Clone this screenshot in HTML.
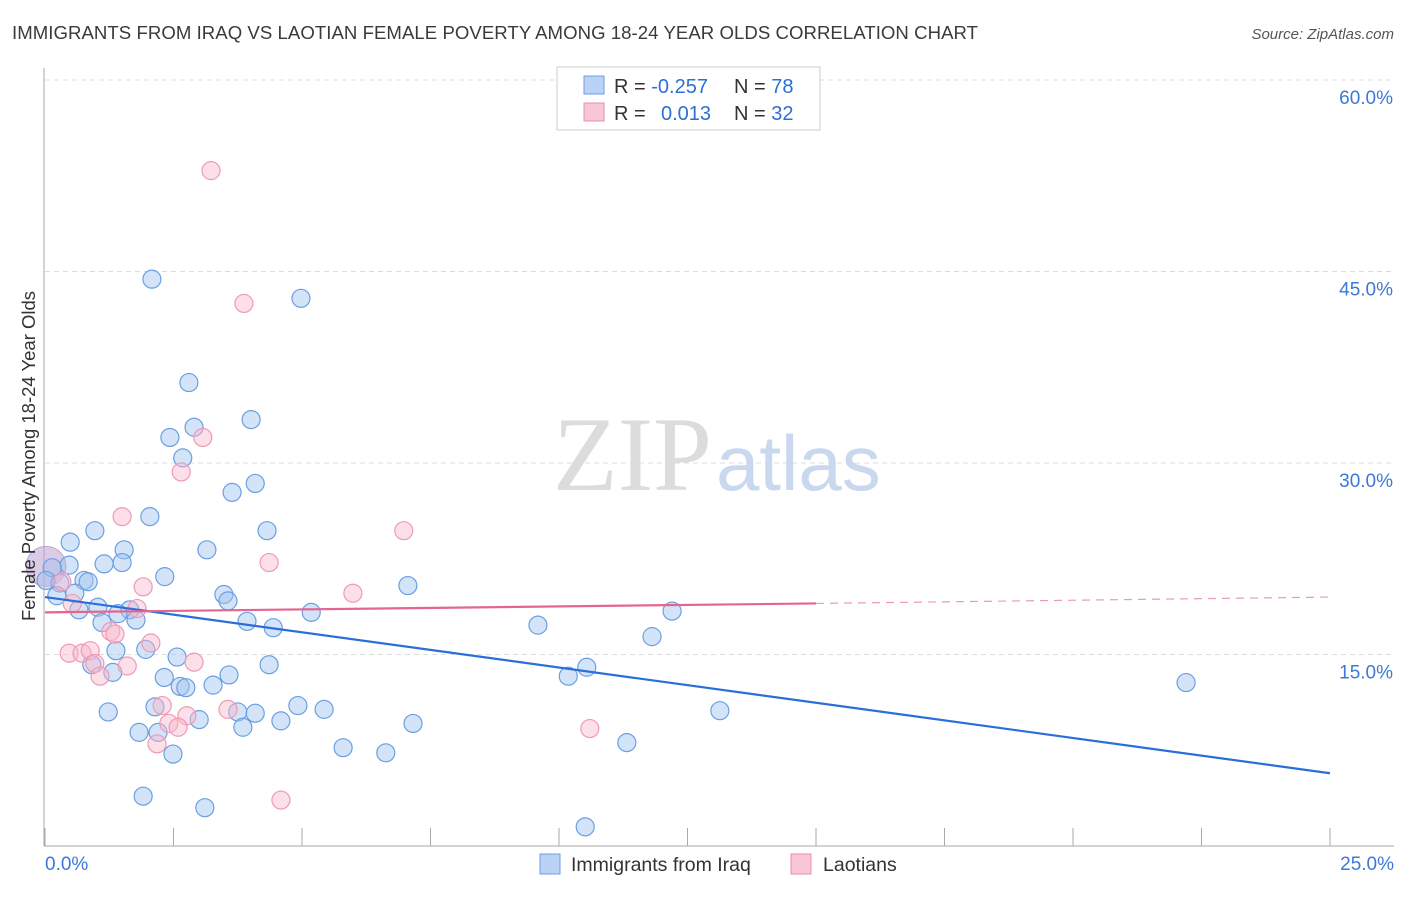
<!DOCTYPE html>
<html><head><meta charset="utf-8"><style>
body{margin:0;background:#fff;font-family:"Liberation Sans",sans-serif;}
</style></head><body>
<svg width="1406" height="892" viewBox="0 0 1406 892" xmlns="http://www.w3.org/2000/svg">
<text x="12" y="39" font-size="18.6" fill="#3a3a3a" textLength="966">IMMIGRANTS FROM IRAQ VS LAOTIAN FEMALE POVERTY AMONG 18-24 YEAR OLDS CORRELATION CHART</text>
<text x="1394" y="39" font-size="15" fill="#555" font-style="italic" text-anchor="end">Source: ZipAtlas.com</text>
<g id="grid"></g>
<text x="712" y="490" font-size="106" fill="#dcdcdc" text-anchor="end" font-family="Liberation Serif,serif">ZIP</text>
<text x="716" y="490" font-size="78" fill="#c9d8ef">atlas</text>
<g id="pts"></g>
<g id="lines"></g>
<text transform="translate(35,456) rotate(-90)" font-size="18.5" fill="#333" text-anchor="middle">Female Poverty Among 18-24 Year Olds</text>
<g>
<rect x="557" y="67" width="263" height="63" fill="#fff" stroke="#ccc"/>
<rect x="584" y="76" width="20" height="18" fill="#b9d2f5" stroke="#6f9ee0"/>
<rect x="584" y="103" width="20" height="18" fill="#f9c6d5" stroke="#ea8fac"/>
<text x="614" y="93" font-size="20" fill="#333">R = <tspan fill="#2c6fd6">-0.257</tspan><tspan x="734">N = </tspan><tspan fill="#2c6fd6">78</tspan></text>
<text x="614" y="120" font-size="20" fill="#333">R = <tspan x="661" fill="#2c6fd6">0.013</tspan><tspan x="734">N = </tspan><tspan fill="#2c6fd6">32</tspan></text>
</g>
<g>
<rect x="540" y="854" width="20" height="20" fill="#b9d2f5" stroke="#6f9ee0"/>
<text x="571" y="871" font-size="19.5" fill="#333">Immigrants from Iraq</text>
<rect x="791" y="854" width="20" height="20" fill="#f9c6d5" stroke="#ea8fac"/>
<text x="823" y="871" font-size="19.5" fill="#333">Laotians</text>
</g>
</svg>
<script>
const xTicks=[0,2.5,5,7.5,10,12.5,15,17.5,20,22.5,25];
const yTicks=[15,30,45,60];
const yTickLabels=["15.0%","30.0%","45.0%","60.0%"];
const iraqX=[2.08,4.98,2.80,4.01,2.90,2.43,2.68,4.09,3.64,2.04,0.97,4.32,0.49,1.54,3.15,1.15,1.50,0.47,0.14,2.33,0.76,0.84,0.29,7.06,3.48,0.58,0.23,3.56,1.03,1.65,0.66,5.18,1.42,1.77,3.93,1.11,9.59,4.44,12.2,11.81,1.96,1.38,2.57,4.36,0.91,1.32,10.54,10.18,3.58,2.32,2.63,2.74,3.27,22.2,4.92,5.43,2.14,1.23,3.75,4.09,13.13,3.0,4.59,7.16,3.85,1.83,2.20,11.32,5.80,6.63,2.49,1.91,3.11,10.51,0.02];
const iraqY=[44.4,42.9,36.3,33.4,32.8,32.0,30.4,28.4,27.7,25.8,24.7,24.7,23.8,23.2,23.2,22.1,22.2,22.0,21.8,21.1,20.8,20.7,20.6,20.4,19.7,19.8,19.6,19.2,18.7,18.5,18.5,18.3,18.2,17.7,17.6,17.5,17.3,17.1,18.4,16.4,15.4,15.3,14.8,14.2,14.2,13.6,14.0,13.3,13.4,13.2,12.5,12.4,12.6,12.8,11.0,10.7,10.9,10.5,10.5,10.4,10.6,9.9,9.8,9.6,9.3,8.9,8.9,8.1,7.7,7.3,7.2,3.9,3.0,1.5,20.8];
const laoX=[3.23,3.87,3.07,2.65,1.50,6.98,4.36,0.33,1.91,5.99,0.53,1.79,2.06,1.28,1.36,0.47,0.72,0.88,0.97,2.90,1.60,1.07,2.28,2.76,3.56,2.41,2.59,2.18,10.60,4.59];
const laoY=[52.9,42.5,32.0,29.3,25.8,24.7,22.2,20.7,20.3,19.8,19.0,18.6,15.9,16.8,16.6,15.1,15.1,15.3,14.3,14.4,14.1,13.3,11.0,10.2,10.7,9.6,9.3,8.0,9.2,3.6];
const iraqTrend=[[0,19.5],[25,5.7]];
const laoTrend=[[0,18.3],[15,19.0],[25,19.5]];
const NS="http://www.w3.org/2000/svg";
const sx=v=>45+v/25*1285, sy=v=>846-v/15*191.5;
function mk(t,a,p){const e=document.createElementNS(NS,t);for(const k in a)e.setAttribute(k,a[k]);p.appendChild(e);return e;}
const g=document.getElementById('grid');
yTicks.forEach((t,i)=>{
 const l=mk('line',{x1:45,x2:1394,y1:sy(t),y2:sy(t),stroke:'#ddd','stroke-dasharray':'5,4'},g);
 
 
 const tx=mk('text',{x:1393,y:sy(t)+24,'font-size':19,fill:'#3d78d8','text-anchor':'end'},g);
 tx.textContent=yTickLabels[i];
 
 
});
const ax=mk('line',{x1:44,x2:44,y1:68,y2:846,stroke:'#aaa'},g);


const bx=mk('line',{x1:44,x2:1394,y1:846,y2:846,stroke:'#aaa'},g);


xTicks.forEach(t=>{const l=mk('line',{x1:sx(t),x2:sx(t),y1:828,y2:846,stroke:'#aaa'},g);
 
 });
[[0,'0.0%','start',45],[25,'25.0%','end',1394]].forEach(d=>{const t=mk('text',{x:d[3],y:870,'font-size':19,fill:'#3d78d8','text-anchor':d[2]},g);t.textContent=d[1];
 
 });
const p=document.getElementById('pts');
const big=mk('circle',{cx:sx(0.02),cy:sy(21.9),r:20,fill:'rgba(190,160,210,0.55)',stroke:'rgba(170,140,200,0.7)'},p);


iraqX.forEach((x,i)=>{const c=mk('circle',{cx:sx(x),cy:sy(iraqY[i]),r:9,fill:'rgba(160,195,240,0.45)',stroke:'#6a9fe2','stroke-width':1.2},p);
 
 });
laoX.forEach((x,i)=>{const c=mk('circle',{cx:sx(x),cy:sy(laoY[i]),r:9,fill:'rgba(248,185,205,0.45)',stroke:'#ee9ab6','stroke-width':1.2},p);
 
 });
const L=document.getElementById('lines');
const bl=mk('line',{x1:sx(iraqTrend[0][0]),y1:sy(iraqTrend[0][1]),x2:sx(iraqTrend[1][0]),y2:sy(iraqTrend[1][1]),stroke:'#2a6fd8','stroke-width':2.2},L);


const pl=mk('line',{x1:sx(laoTrend[0][0]),y1:sy(laoTrend[0][1]),x2:sx(laoTrend[1][0]),y2:sy(laoTrend[1][1]),stroke:'#e4658f','stroke-width':2.2},L);


const pd=mk('line',{x1:sx(laoTrend[1][0]),y1:sy(laoTrend[1][1]),x2:sx(laoTrend[2][0]),y2:sy(laoTrend[2][1]),stroke:'#eb9ab5','stroke-width':1.2,'stroke-dasharray':'8,6'},L);


</script>
</body></html>
